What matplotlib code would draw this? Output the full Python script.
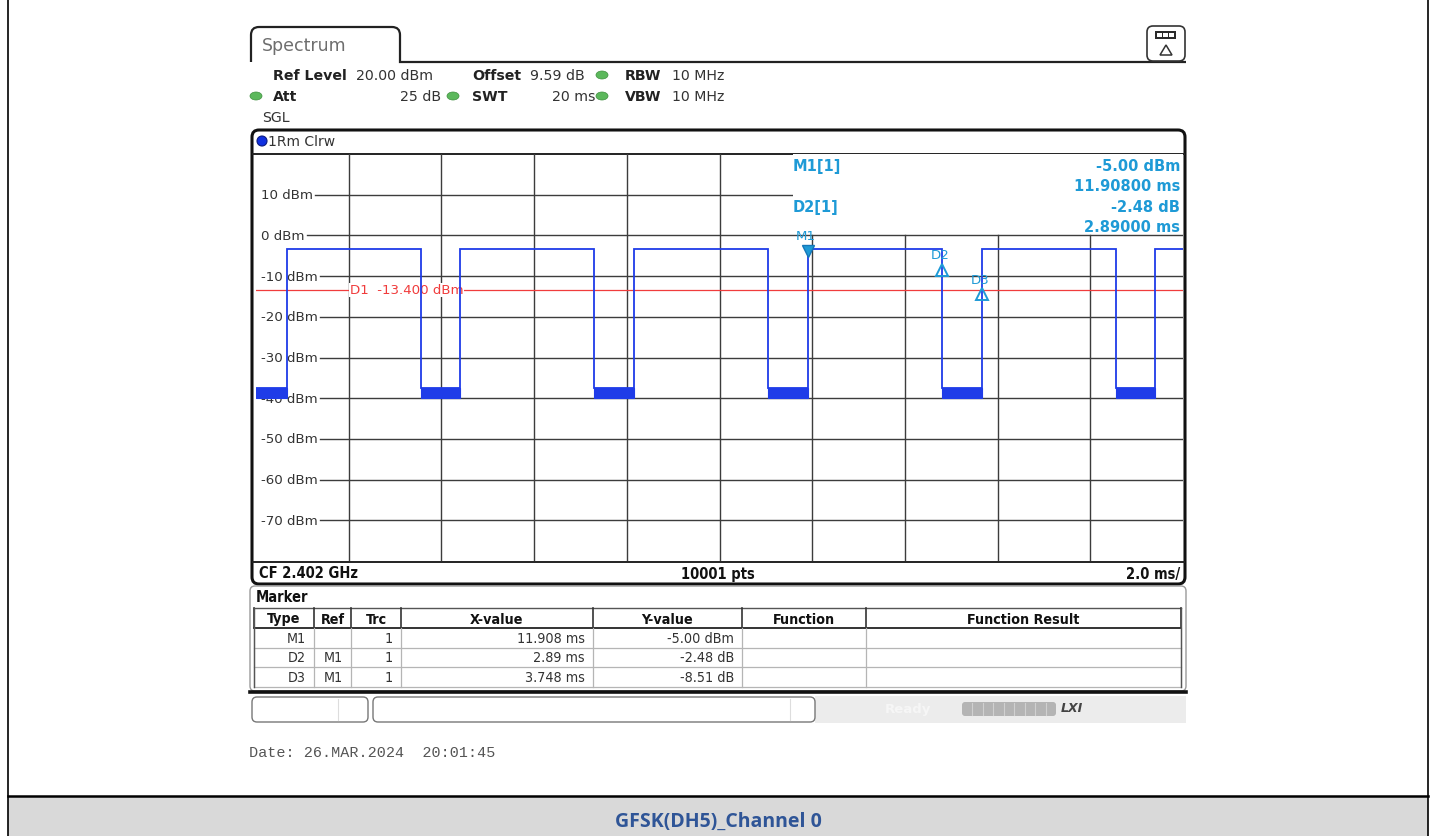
import matplotlib
matplotlib.use("Agg")
import matplotlib.pyplot as plt
from matplotlib.patches import FancyBboxPatch, Rectangle, Ellipse, Circle, PathPatch, Polygon
from matplotlib.path import Path
from matplotlib.transforms import offset_copy

W, H, DPI = 1437, 837, 100

# ---- instrument settings ----
ref_level_dbm = 20.0
bottom_level_dbm = -80.0
sweep_time_ms = 20.0
level_ticks = [10, 0, -10, -20, -30, -40, -50, -60, -70]
time_grid_ms = [2, 4, 6, 8, 10, 12, 14, 16, 18]

# ---- trace 1 (clear/write): burst edges and levels ----
rise_ms = [0.664, 4.412, 8.160, 11.908, 15.656, 19.404]
fall_ms = [3.554, 7.302, 11.050, 14.798, 18.546]
burst_dbm = -3.4
floor_top_dbm = -37.6
floor_bottom_dbm = -40.0

# ---- display line D1 ----
d1_dbm = -13.4

# ---- markers (M1 absolute, D2/D3 relative to M1) ----
marker_names = ["M1", "D2", "D3"]
marker_refs = ["", "M1", "M1"]
marker_trc = [1, 1, 1]
marker_x_ms = [11.908, 2.89, 3.748]
marker_y = [-5.00, -2.48, -8.51]

BLUE = "#1f3ce8"
CYAN = "#1e9ad6"
RED = "#f03c3c"
GRID = "#3c3c3c"
GREEN = "#5cb85c"

fig = plt.figure(figsize=(W / DPI, H / DPI), dpi=DPI)
fig.patch.set_facecolor("white")

# background canvas in pixel coordinates
bg = fig.add_axes([0, 0, 1, 1], zorder=0)
bg.set_xlim(0, W)
bg.set_ylim(H, 0)
bg.axis("off")

# overlay canvas in pixel coordinates
top = fig.add_axes([0, 0, 1, 1], zorder=3)
top.set_xlim(0, W)
top.set_ylim(H, 0)
top.axis("off")
top.patch.set_alpha(0)

# trace diagram area
PL, PR, PT, PB = 256, 1183, 155, 562
ax = fig.add_axes([PL / W, 1 - PB / H, (PR - PL) / W, (PB - PT) / H], zorder=2)
ax.set_xlim(0, sweep_time_ms)
ax.set_ylim(bottom_level_dbm, ref_level_dbm)
ax.axis("off")
ax.patch.set_alpha(0)

# ---------------- page frame and caption ----------------
bg.plot([8, 8], [0, H], color="black", lw=1.2)
bg.plot([1428, 1428], [0, H], color="black", lw=1.2)
bg.add_patch(Rectangle((8, 797), 1420, 40, facecolor="#d9d9d9", edgecolor="none"))
bg.plot([8, 1428], [797, 797], color="black", lw=1.8)
bg.text(718, 822, "GFSK(DH5)_Channel 0", ha="center", va="center",
        fontsize=14, fontweight="bold", color="#2f5597",
        family=["Liberation Sans Narrow", "Open Sans", "DejaVu Sans"])

# ---------------- header tab ----------------
tab = Path([(251, 63), (251, 36), (251, 28), (259, 28), (392, 28), (400, 28), (400, 36),
            (400, 63), (1186, 63)],
           [Path.MOVETO, Path.LINETO, Path.CURVE3, Path.CURVE3, Path.LINETO, Path.CURVE3,
            Path.CURVE3, Path.LINETO, Path.LINETO])
bg.add_patch(PathPatch(tab, facecolor="none", edgecolor="#222222", lw=1.6))
bg.text(262, 46, "Spectrum", ha="left", va="center", fontsize=12.5, color="#6e6e6e")

# top-right icon
bg.add_patch(FancyBboxPatch((1147, 27), 38, 35, boxstyle="round,pad=0,rounding_size=6",
                            facecolor="white", edgecolor="#333333", lw=1.2))
bg.add_patch(Rectangle((1155, 32), 21, 8, facecolor="#2a2a2a", edgecolor="none"))
for bx in (1157, 1163, 1169):
    bg.add_patch(Rectangle((bx, 34), 4.5, 4, facecolor="white", edgecolor="none"))
bg.add_patch(Polygon([(1160, 56), (1172, 56), (1166, 46)], closed=True,
                     facecolor="none", edgecolor="#333333", lw=1.1))

HF = 10.2
bg.text(273, 76, "Ref Level", fontsize=HF, fontweight="bold", va="center", color="#222")
bg.text(356, 76, "20.00 dBm", fontsize=HF, va="center", color="#333")
bg.text(472, 76, "Offset", fontsize=HF, fontweight="bold", va="center", color="#222")
bg.text(530, 76, "9.59 dB", fontsize=HF, va="center", color="#333")
bg.text(625, 76, "RBW", fontsize=HF, fontweight="bold", va="center", color="#222")
bg.text(672, 76, "10 MHz", fontsize=HF, va="center", color="#333")
bg.text(273, 97, "Att", fontsize=HF, fontweight="bold", va="center", color="#222")
bg.text(441, 97, "25 dB", fontsize=HF, ha="right", va="center", color="#333")
bg.text(472, 97, "SWT", fontsize=HF, fontweight="bold", va="center", color="#222")
bg.text(596, 97, "20 ms", fontsize=HF, ha="right", va="center", color="#333")
bg.text(625, 97, "VBW", fontsize=HF, fontweight="bold", va="center", color="#222")
bg.text(672, 97, "10 MHz", fontsize=HF, va="center", color="#333")
bg.text(262, 118, "SGL", fontsize=HF, va="center", color="#333")
for gx, gy in [(602, 76), (256, 97), (453, 97), (602, 97)]:
    bg.add_patch(Ellipse((gx, gy), 12, 8, facecolor=GREEN, edgecolor="#3f8f3f", lw=0.5))

# ---------------- diagram frame ----------------
bg.add_patch(FancyBboxPatch((252, 131), 933, 454, boxstyle="round,pad=0,rounding_size=7",
                            facecolor="white", edgecolor="#111111", lw=2.2))
bg.plot([253, 1184], [PT, PT], color="#222222", lw=1.4)
bg.plot([253, 1184], [PB + 1, PB + 1], color="#222222", lw=1.4)
bg.add_patch(Circle((262, 142), 5, facecolor="#1030e0", edgecolor="#0a1a80", lw=0.8))
bg.text(268, 142, "1Rm Clrw", fontsize=10, va="center", color="#333")

SF = dict(fontsize=10.5, fontweight="bold", va="center", color="#111",
          family="DejaVu Sans", fontstretch="condensed")
bg.text(259, 574, "CF 2.402 GHz", ha="left", **SF)
bg.text(718, 574, "10001 pts", ha="center", **SF)
bg.text(1180, 574, "2.0 ms/", ha="right", **SF)

# ---------------- grid ----------------
for t in time_grid_ms:
    y0 = bottom_level_dbm
    y1 = ref_level_dbm if t <= 10 else 0
    ax.plot([t, t], [y0, y1], color=GRID, lw=1.0, zorder=1)

lbl_x_ms = (261 - PL) / (PR - PL) * sweep_time_ms
labels = []
for lv in level_ticks:
    labels.append(ax.text(lbl_x_ms, lv, f"{lv} dBm", ha="left", va="center",
                          fontsize=9.6, color="#333333", zorder=2))
fig.canvas.draw()
renderer = fig.canvas.get_renderer()
inv = ax.transData.inverted()
box_left_ms = (793 - PL) / (PR - PL) * sweep_time_ms
for lv, tx in zip(level_ticks, labels):
    bb = tx.get_window_extent(renderer)
    x_start = inv.transform((bb.x1 + 2, 0))[0]
    x_end = box_left_ms if lv > 0 else sweep_time_ms
    ax.plot([x_start, x_end], [lv, lv], color=GRID, lw=1.0, zorder=1)

# display line D1
ax.axhline(d1_dbm, color=RED, lw=0.9, zorder=3)
d1_x_ms = (350 - PL) / (PR - PL) * sweep_time_ms
ax.text(d1_x_ms, d1_dbm, f"D1  {d1_dbm:.3f} dBm", color=RED, fontsize=9.6,
        ha="left", va="center", zorder=4,
        bbox=dict(facecolor="white", edgecolor="none", pad=0.6))

# ---------------- trace ----------------
xs, ys = [0.0], [floor_top_dbm]
for i, r in enumerate(rise_ms):
    xs += [r, r]
    ys += [floor_top_dbm, burst_dbm]
    if i < len(fall_ms):
        xs += [fall_ms[i], fall_ms[i]]
        ys += [burst_dbm, floor_top_dbm]
xs.append(sweep_time_ms)
ys.append(burst_dbm)
ax.plot(xs, ys, color=BLUE, lw=1.3, zorder=6, solid_joinstyle="miter")

low_spans = [(0.0, rise_ms[0])] + [(fall_ms[i], rise_ms[i + 1]) for i in range(len(fall_ms))]
for a, b in low_spans:
    ax.fill_between([a, b], floor_bottom_dbm, floor_top_dbm, color=BLUE, lw=0.8,
                    edgecolor=BLUE, zorder=6)

# ---------------- markers ----------------
m1x, m1y = marker_x_ms[0], marker_y[0]
pos = [(m1x, m1y)] + [(m1x + dx, m1y + dy) for dx, dy in zip(marker_x_ms[1:], marker_y[1:])]
up = offset_copy(ax.transData, fig=fig, x=0, y=5, units="dots")
down = offset_copy(ax.transData, fig=fig, x=0, y=-4, units="dots")
ax.plot([pos[0][0]], [pos[0][1]], marker="v", ms=8, color=CYAN, mec="#1477b8",
        transform=up, zorder=8, ls="none")
for p in pos[1:]:
    ax.plot([p[0]], [p[1]], marker="^", ms=8, mfc="none", mec=CYAN, mew=1.4,
            transform=down, zorder=8, ls="none")
for name, p, dy in zip(marker_names, pos, [20, 11, 11]):
    ax.annotate(name, p, xytext=(-2, dy), textcoords="offset pixels", ha="center",
                va="center", fontsize=9.6, color=CYAN, zorder=8)

# info box above the 0 dBm line
ax.add_patch(Rectangle((box_left_ms, 0.4), sweep_time_ms - box_left_ms, ref_level_dbm - 0.4,
                       facecolor="white", edgecolor="none", zorder=1.5))
IF = dict(fontsize=10.5, fontweight="bold", color=CYAN, va="center")
top.text(793, 166, f"{marker_names[0]}[{marker_trc[0]}]", ha="left", **IF)
top.text(1180, 166, f"{m1y:.2f} dBm", ha="right", **IF)
top.text(1180, 186, f"{m1x:.5f} ms", ha="right", **IF)
top.text(793, 207, f"{marker_names[1]}[{marker_trc[1]}]", ha="left", **IF)
top.text(1180, 207, f"{marker_y[1]:.2f} dB", ha="right", **IF)
top.text(1180, 227, f"{marker_x_ms[1]:.5f} ms", ha="right", **IF)

# ---------------- marker table ----------------
bg.add_patch(FancyBboxPatch((250, 587), 936, 105, boxstyle="round,pad=0,rounding_size=5",
                            facecolor="white", edgecolor="#9a9a9a", lw=1.0))
bg.plot([250, 1186], [693, 693], color="#111111", lw=2.6)
bg.text(256, 598, "Marker", ha="left", **SF)

cols = [254, 314, 351, 401, 593, 742, 866, 1181]
rows = [609, 629, 649, 668, 688]
TF = dict(fontsize=10.3, va="center", family="DejaVu Sans", fontstretch="condensed")
# header
bg.plot([cols[0], cols[-1]], [rows[0], rows[0]], color="#555555", lw=1.0)
bg.plot([cols[0], cols[-1]], [rows[1], rows[1]], color="#333333", lw=1.4)
for cx in cols:
    bg.plot([cx, cx], [rows[0], rows[1]], color="#333333", lw=1.2)
    bg.plot([cx, cx], [rows[1], rows[-1]], color="#b5b5b5", lw=0.9)
for ry in rows[2:]:
    bg.plot([cols[0], cols[-1]], [ry, ry], color="#b5b5b5", lw=0.9)
bg.plot([cols[0], cols[0]], [rows[0], rows[-1]], color="#555555", lw=1.0)
bg.plot([cols[-1], cols[-1]], [rows[0], rows[-1]], color="#555555", lw=1.0)
headers = ["Type", "Ref", "Trc", "X-value", "Y-value", "Function", "Function Result"]
for i, h in enumerate(headers):
    bg.text((cols[i] + cols[i + 1]) / 2, 619.5, h, ha="center", fontweight="bold",
            color="#111", **TF)
for r in range(3):
    yc = (rows[r + 1] + rows[r + 2]) / 2
    x_txt = f"{marker_x_ms[r]:g} ms"
    y_unit = "dBm" if r == 0 else "dB"
    cells = [marker_names[r], marker_refs[r], str(marker_trc[r]), x_txt,
             f"{marker_y[r]:.2f} {y_unit}"]
    for c, s in enumerate(cells):
        bg.text(cols[c + 1] - 8, yc, s, ha="right", color="#333", **TF)

# ---------------- soft-key / status bar ----------------
bg.add_patch(Rectangle((815, 697), 371, 27, facecolor="#ececec", edgecolor="none"))
bg.add_patch(FancyBboxPatch((252, 698), 116, 25, boxstyle="round,pad=0,rounding_size=5",
                            facecolor="white", edgecolor="#777777", lw=1.0))
bg.plot([338, 338], [700, 721], color="#dddddd", lw=0.8)
bg.add_patch(FancyBboxPatch((373, 698), 442, 25, boxstyle="round,pad=0,rounding_size=5",
                            facecolor="white", edgecolor="#777777", lw=1.0))
bg.plot([790, 790], [700, 721], color="#dddddd", lw=0.8)
bg.text(885, 709, "Ready", fontsize=9.5, color="#f6f6f6", va="center", fontweight="bold")
bg.add_patch(FancyBboxPatch((962, 703), 94, 14, boxstyle="round,pad=0,rounding_size=3",
                            facecolor="#b4b4b4", edgecolor="none"))
for k in range(1, 9):
    bx = 962 + k * 94 / 9
    bg.plot([bx, bx], [704, 716], color="#d0d0d0", lw=0.8)
bg.text(1061, 709, "LXI", fontsize=9, fontweight="bold", style="italic",
        color="#444444", va="center")

bg.text(249, 753, "Date: 26.MAR.2024  20:01:45", fontsize=10.9, va="center",
        color="#555555", family="Liberation Mono")

fig.savefig("out.png", dpi=DPI, facecolor="white")
